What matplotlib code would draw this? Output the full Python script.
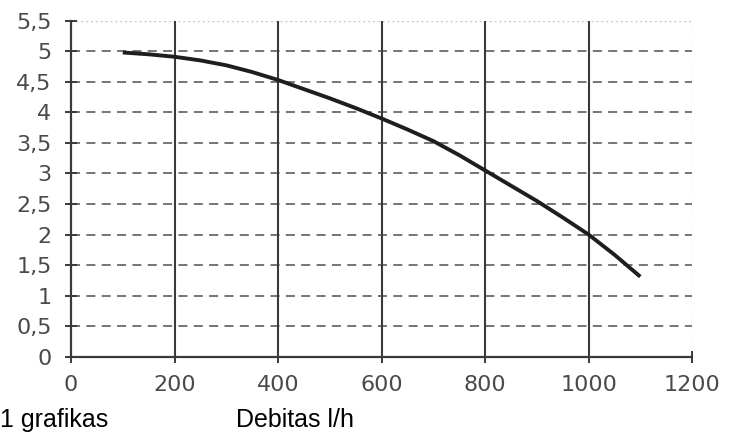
import matplotlib
matplotlib.use("Agg")
import matplotlib.pyplot as plt

# Pump curve: head versus flow rate
flow = [100, 150, 200, 250, 300, 350, 400, 450, 500, 550, 600, 650, 700,
        750, 800, 850, 900, 950, 1000, 1050, 1100]
head = [4.98, 4.95, 4.91, 4.85, 4.77, 4.66, 4.53, 4.38, 4.23, 4.07, 3.90, 3.72, 3.53,
        3.30, 3.05, 2.80, 2.55, 2.28, 2.0, 1.67, 1.31]

x_ticks = [0, 200, 400, 600, 800, 1000, 1200]
y_ticks = [0, 0.5, 1, 1.5, 2, 2.5, 3, 3.5, 4, 4.5, 5, 5.5]
y_labels = ["0", "0,5", "1", "1,5", "2", "2,5", "3", "3,5", "4", "4,5", "5", "5,5"]

fig = plt.figure(figsize=(7.38, 4.37), dpi=100)
ax = fig.add_axes([0.0962, 0.1838, 0.8415, 0.7688])

ax.set_xlim(0, 1200)
ax.set_ylim(0, 5.5)

# horizontal dashed grid
for y in y_ticks[1:-1]:
    ax.axhline(y, color="#6a6a6a", lw=1.3, ls=(0, (5, 3.5)), zorder=1)
ax.axhline(5.5, color="#c8c8c8", lw=1.0, ls=(0, (1.5, 2)), zorder=1)
# vertical solid grid
for x in x_ticks[1:-1]:
    ax.axvline(x, color="#3a3a3a", lw=1.5, zorder=1)
ax.axvline(1200, color="#d0d0d0", lw=1.0, ls=(0, (1.5, 2)), zorder=1)

ax.plot(flow, head, color="#1e1e1e", lw=2.8, solid_capstyle="butt",
        solid_joinstyle="round", zorder=3)

for side in ("top", "right"):
    ax.spines[side].set_visible(False)
for side in ("left", "bottom"):
    ax.spines[side].set_color("#3a3a3a")
    ax.spines[side].set_linewidth(1.6)

ax.set_xticks(x_ticks)
ax.set_xticklabels([str(v) for v in x_ticks])
ax.set_yticks(y_ticks)
ax.set_yticklabels(y_labels)
ax.tick_params(axis="both", direction="inout", length=8, width=1.4, color="#3a3a3a",
               labelcolor="#4a4a4a", labelsize=16)
ax.tick_params(axis="x", pad=9)
ax.tick_params(axis="y", pad=10)

fig.text(0.0, 0.012, "1 grafikas", family="Liberation Sans", fontsize=18, color="black",
         ha="left", va="bottom")
fig.text(0.32, 0.012, "Debitas l/h", family="Liberation Sans", fontsize=18, color="black",
         ha="left", va="bottom")

fig.savefig("out.png", dpi=100)
